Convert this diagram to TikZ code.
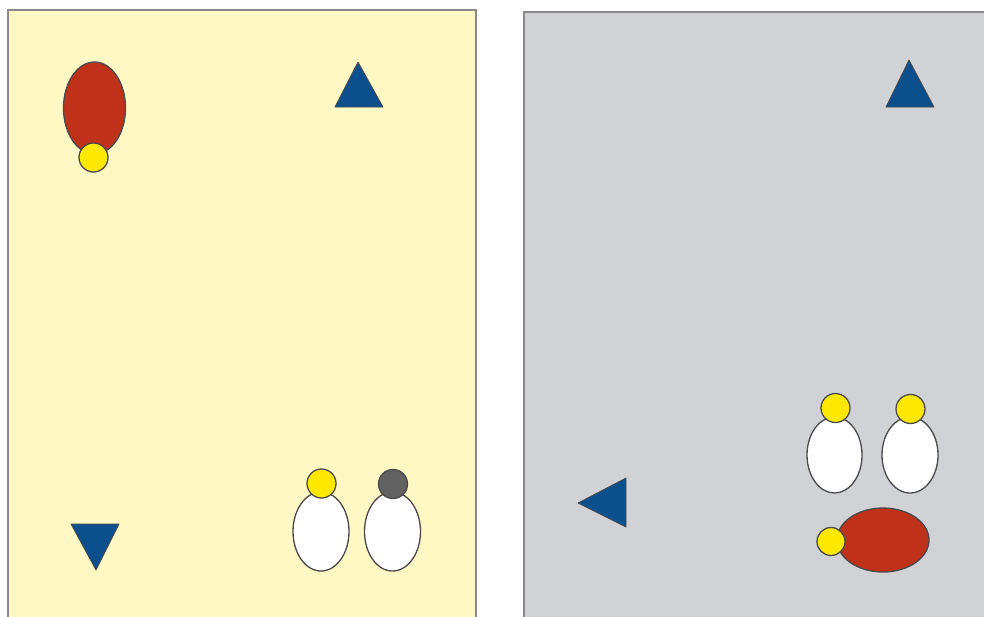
\documentclass[tikz,border=0pt]{standalone}
\usetikzlibrary{shapes.geometric}
\definecolor{panelY}{HTML}{FFF8C4}
\definecolor{panelG}{HTML}{D0D2D5}
\definecolor{redE}{HTML}{C0311A}
\definecolor{blueT}{HTML}{0B4F8C}
\definecolor{yel}{HTML}{FFE800}
\definecolor{darkC}{HTML}{626262}
\definecolor{edge}{HTML}{4A4A4A}
\definecolor{frameC}{HTML}{8A8A8A}
\begin{document}
\begin{tikzpicture}[x=1pt,y=-1pt,
  panel/.style={draw=frameC,line width=1.2pt},
  oval/.style={ellipse,draw=edge,line width=1.3pt,inner sep=0pt},
  head/.style={circle,draw=edge,line width=1.3pt,inner sep=0pt,minimum size=29pt},
  tri/.style={fill=blueT,draw=edge,line width=0.8pt,line join=round}]
\useasboundingbox (0,0) rectangle (984,616);
\clip (0,0) rectangle (984,616);
% panels
\draw[panel,fill=panelY] (8,10) rectangle (476,630);
\draw[panel,fill=panelG] (524,12) rectangle (995,630);
% left panel
\node[oval,fill=redE,minimum width=62pt,minimum height=92pt] (redL) at (94.5,108) {};
\node[head,fill=yel] (headL) at (93.5,157.5) {};
\draw[tri] (335,107) -- (358,62) -- (383,107) -- cycle;
\draw[tri] (71,524) -- (119,524) -- (96,570) -- cycle;
\node[oval,fill=white,minimum width=56pt,minimum height=79pt] (w1) at (321,531.5) {};
\node[head,fill=yel] (h1) at (321.5,483.5) {};
\node[oval,fill=white,minimum width=56pt,minimum height=79pt] (w2) at (392.5,531.5) {};
\node[head,fill=darkC] (h2) at (393,484) {};
% right panel
\draw[tri] (886,107) -- (909,60) -- (934,107) -- cycle;
\draw[tri] (626,478) -- (626,527) -- (578,503) -- cycle;
\node[oval,fill=white,minimum width=55pt,minimum height=76pt] (w3) at (834.5,455) {};
\node[head,fill=yel] (h3) at (835.5,408) {};
\node[oval,fill=white,minimum width=56pt,minimum height=76pt] (w4) at (910,455) {};
\node[head,fill=yel] (h4) at (910.5,409) {};
\node[oval,fill=redE,minimum width=92pt,minimum height=64pt] (redR) at (883,540) {};
\node[head,fill=yel,minimum size=28pt] (headR) at (831,541.5) {};
\end{tikzpicture}
\end{document}
